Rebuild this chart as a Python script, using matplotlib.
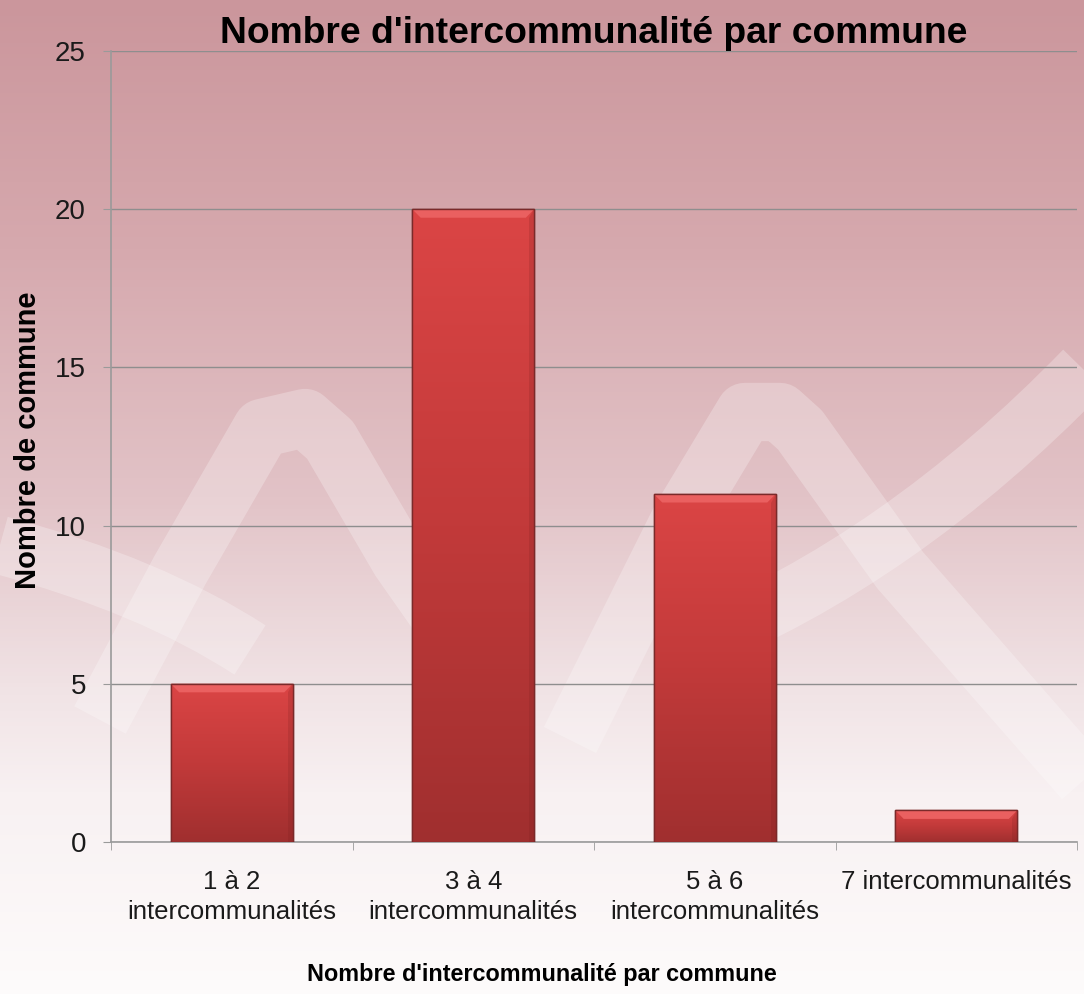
import numpy as np
import matplotlib.pyplot as plt
from matplotlib.path import Path
from matplotlib.patches import PathPatch, Polygon
from matplotlib.colors import LinearSegmentedColormap

categories = ["1 à 2\nintercommunalités", "3 à 4\nintercommunalités",
              "5 à 6\nintercommunalités", "7 intercommunalités"]
counts = [5, 20, 11, 1]
y_ticks = [0, 5, 10, 15, 20, 25]
title = "Nombre d'intercommunalité par commune"
x_label = "Nombre d'intercommunalité par commune"
y_label = "Nombre de commune"

plt.rcParams['font.family'] = ['Liberation Sans', 'DejaVu Sans']

W, H = 1084, 994
fig = plt.figure(figsize=(W / 100, H / 100), dpi=100)

# background: pink at the top fading to white, with soft white swooshes
bg = fig.add_axes([0, 0, 1, 1], zorder=-10)
bg_cmap = LinearSegmentedColormap.from_list(
    "bg", [(0, "#fdfbfb"), (0.2, "#f8f1f2"), (0.3, "#f1e4e6"),
           (0.5, "#e2c3c7"), (0.75, "#d6a9ae"), (1, "#cb969c")])
grad = np.linspace(0, 1, 256).reshape(-1, 1)
bg.imshow(grad, cmap=bg_cmap, aspect='auto', extent=(0, W, 0, H), origin='lower')
bg.set_xlim(0, W)
bg.set_ylim(0, H)
bg.axis('off')

# swoosh outlines (pixel coords, y from the top), drawn as smooth quadratic curves
swooshes = [
    [(100, 720), (180, 570), (262, 428), (305, 418), (330, 440), (400, 560), (470, 660)],
    [(0, 545), (150, 585), (250, 650)],
    [(570, 740), (680, 520), (745, 412), (780, 412), (800, 430), (900, 570), (1084, 780)],
    [(1084, 370), (900, 560), (690, 645)],
]
for pts in swooshes:
    pts = [(px, H - py) for px, py in pts]
    codes = [Path.MOVETO] + [Path.LINETO] * (len(pts) - 1)
    if len(pts) == 3:
        codes = [Path.MOVETO, Path.CURVE3, Path.CURVE3]
    bg.add_patch(PathPatch(Path(pts, codes), facecolor='none', edgecolor='white',
                           linewidth=42, alpha=0.26, joinstyle='round', capstyle='butt'))

# main chart
ax = fig.add_axes([111 / W, 1 - 842 / H, (1077 - 111) / W, (842 - 51) / H])
ax.patch.set_alpha(0)
x = np.arange(len(counts))
bars = ax.bar(x, counts, width=0.505, color='#c03a3a', edgecolor='#7d2424',
              linewidth=1, zorder=3)

bar_cmap = LinearSegmentedColormap.from_list("bar", ["#a02f2f", "#c23a3a", "#db4545"])
for b in bars:
    x0, w, h = b.get_x(), b.get_width(), b.get_height()
    im = ax.imshow(grad, cmap=bar_cmap, aspect='auto', origin='lower',
                   extent=(x0, x0 + w, 0, h), zorder=3.5)
    im.set_clip_path(b)
    dx, dy = 0.035, 0.27
    ax.add_patch(Polygon([(x0, h), (x0 + w, h), (x0 + w - dx, h - dy), (x0 + dx, h - dy)],
                         closed=True, facecolor='#ea6060', edgecolor='none', zorder=3.6))
    ax.add_patch(Polygon([(x0 + w, h), (x0 + w, 0), (x0 + w - dx * 0.6, 0), (x0 + w - dx * 0.6, h - dy)],
                         closed=True, facecolor='#7a1f1f', alpha=0.2, edgecolor='none', zorder=3.6))
    ax.add_patch(plt.Rectangle((x0, 0), w, h, facecolor='none', edgecolor='#7a2a2a',
                               linewidth=1, zorder=3.7))

ax.set_xlim(-0.5, len(counts) - 0.5)
ax.set_ylim(0, 25)
ax.set_yticks(y_ticks)
ax.yaxis.grid(True, color='#8e8e8e', linewidth=1)
ax.set_axisbelow(True)
for s in ['top', 'right']:
    ax.spines[s].set_visible(False)
for s in ['left', 'bottom']:
    ax.spines[s].set_color('#9a9a9a')
    ax.spines[s].set_linewidth(1.2)

ax.set_xticks(x, categories)
ax.set_xticks(np.arange(-0.5, len(counts)), minor=True)
ax.tick_params(axis='x', which='major', length=0, pad=20, labelsize=18.5, colors='#1a1a1a')
ax.tick_params(axis='x', which='minor', length=6, color='#9a9a9a')
ax.tick_params(axis='y', length=6, color='#9a9a9a', pad=12, labelsize=20, labelcolor='#1a1a1a')
for lab in ax.get_xticklabels():
    lab.set_linespacing(1.35)

ax.set_title(title, fontsize=26.8, fontweight='bold', pad=6)
fig.text(0.5, 1 - 975 / H, x_label, ha='center', va='center', fontsize=16.8, fontweight='bold')
fig.text(28 / W, 1 - 440 / H, y_label, ha='center', va='center', rotation=90,
         fontsize=21, fontweight='bold')

fig.savefig("out.png", dpi=100)
